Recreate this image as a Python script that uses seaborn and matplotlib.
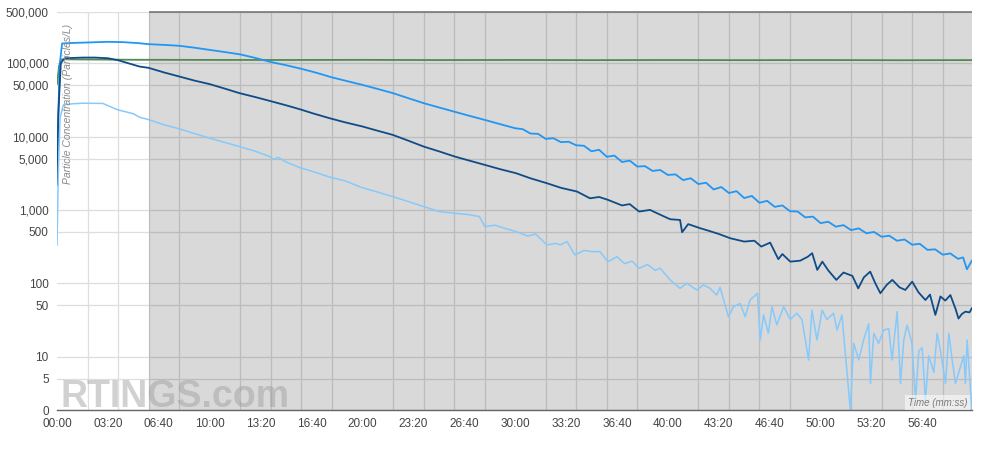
"""Particle concentration decay chart (log-style y axis, shaded test window)."""

import matplotlib
matplotlib.use("Agg")
import matplotlib.pyplot as plt
from matplotlib.ticker import FixedLocator, MultipleLocator, FuncFormatter
import pandas as pd
import seaborn as sns

# ---- data: time in seconds, concentration in particles/L ----
mid_blue_t = [0, 10, 20, 60, 120, 200, 260, 320, 360, 420, 480, 540, 600, 660,
              720, 780, 840, 900, 960, 1020, 1080, 1140, 1200, 1260, 1320, 1380,
              1440, 1500, 1560, 1620, 1680, 1740, 1800, 1830, 1860, 1890, 1920,
              1950, 1980, 2010, 2040, 2070, 2100, 2130, 2160, 2190, 2220, 2250,
              2280, 2310, 2340, 2370, 2400, 2430, 2460, 2490, 2520, 2550, 2580,
              2610, 2640, 2670, 2700, 2730, 2760, 2790, 2820, 2850, 2880, 2910,
              2940, 2970, 3000, 3030, 3060, 3090, 3120, 3150, 3180, 3210, 3240,
              3270, 3300, 3330, 3360, 3390, 3420, 3450, 3480, 3510, 3540, 3560,
              3575, 3595]
mid_blue_v = [3000, 90000, 186000, 189000, 192000, 196000, 194000, 188000, 182000,
              178000, 173000, 163000, 152000, 142000, 132000, 118000, 104000,
              94000, 84000, 74000, 64200, 57000, 50700, 44600, 39100, 33400,
              28600, 25000, 21900, 19200, 16900, 14800, 13000, 12600, 11000,
              10900, 9300, 9500, 8400, 8500, 7600, 7500, 6300, 6600, 5300, 5500,
              4500, 4700, 3900, 3950, 3400, 3500, 3000, 3050, 2550, 2700, 2250,
              2350, 1900, 2050, 1700, 1800, 1450, 1550, 1250, 1330, 1100, 1150,
              960, 950, 790, 810, 660, 690, 590, 620, 530, 560, 480, 500, 430,
              445, 380, 395, 335, 345, 285, 290, 245, 255, 215, 225, 155, 205]

dark_blue_t = [0, 5, 15, 30, 60, 100, 150, 200, 240, 280, 324, 360, 420, 481,
               540, 600, 660, 717, 780, 835, 900, 953, 1010, 1071, 1130, 1201,
               1260, 1319, 1380, 1441, 1500, 1563, 1620, 1681, 1740, 1803, 1860,
               1925, 1980, 2043, 2094, 2130, 2165, 2220, 2250, 2287, 2330, 2370,
               2409, 2448, 2456, 2480, 2527, 2560, 2600, 2645, 2700, 2740, 2767,
               2802, 2834, 2850, 2881, 2920, 2950, 2967, 2987, 3007, 3030, 3062,
               3090, 3125, 3148, 3170, 3195, 3215, 3235, 3260, 3282, 3310, 3333,
               3360, 3385, 3412, 3430, 3451, 3471, 3490, 3510, 3530, 3542, 3555,
               3569, 3585, 3595]
dark_blue_v = [2200, 20000, 100000, 117000, 118000, 119500, 119500, 117000,
               110000, 100000, 90200, 86500, 75000, 65850, 58000, 51900, 45000,
               39100, 34500, 30700, 26700, 23650, 20500, 17800, 15700, 13700,
               12000, 10550, 8800, 7300, 6300, 5340, 4700, 4110, 3600, 3170,
               2700, 2310, 2000, 1780, 1440, 1500, 1370, 1150, 1200, 950, 1000,
               860, 746, 729, 496, 640, 563, 520, 470, 411, 370, 380, 316, 358,
               213, 250, 197, 203, 230, 257, 152, 197, 150, 111, 140, 126, 85,
               120, 144, 100, 73, 95, 111, 88, 81, 105, 75, 59, 70, 37, 66, 58,
               69, 45, 33, 38, 41, 40, 46]

light_blue_t = [0, 5, 12, 25, 60, 100, 180, 238, 300, 324, 363, 420, 481, 540,
                600, 660, 717, 780, 835, 850, 870, 900, 953, 1010, 1071, 1130,
                1201, 1260, 1319, 1380, 1441, 1500, 1563, 1620, 1660, 1681, 1720,
                1760, 1803, 1850, 1880, 1925, 1960, 1977, 2004, 2035, 2070, 2100,
                2133, 2165, 2200, 2230, 2260, 2287, 2320, 2350, 2370, 2409, 2448,
                2474, 2514, 2540, 2566, 2592, 2605, 2638, 2658, 2684, 2704, 2723,
                2752, 2763, 2776, 2795, 2809, 2828, 2855, 2881, 2907, 2927, 2953,
                2966, 2986, 3006, 3025, 3051, 3065, 3084, 3117, 3130, 3150, 3169,
                3189, 3196, 3209, 3228, 3248, 3268, 3281, 3301, 3314, 3327, 3340,
                3359, 3373, 3386, 3399, 3412, 3425, 3445, 3458, 3471, 3491, 3504,
                3517, 3530, 3543, 3563, 3569, 3576, 3589, 3595]
light_blue_v = [330, 3000, 18000, 27000, 28000, 28500, 28300, 23200, 20500,
                18400, 16900, 14500, 12740, 11000, 9510, 8300, 7300, 6300, 5340,
                4900, 5200, 4500, 3780, 3300, 2800, 2500, 2000, 1750, 1520, 1300,
                1110, 950, 900, 860, 810, 590, 620, 560, 506, 440, 470, 333, 350,
                333, 370, 243, 280, 270, 270, 197, 230, 185, 200, 160, 180, 150,
                160, 111, 85, 100, 81, 95, 85, 69, 88, 35, 48, 53, 35, 59, 73,
                16.8, 37, 20.8, 48, 27, 48, 32, 39, 32, 9.0, 43, 16.8, 43, 32, 39,
                23, 37, 0, 15.2, 9.0, 16.8, 28, 4.25, 20.8, 15.2, 23, 24, 9.0, 41,
                4.25, 16.8, 27, 15.2, 1.6, 11.9, 13.2, 1.6, 10.3, 6.1, 20.8, 11.9,
                4.25, 20.8, 9.0, 4.25, 6.1, 10.3, 4.25, 16.8, 3.2, 0]

green_t = [0, 8, 15, 30, 300, 600, 900, 1200, 1500, 1800, 2100, 2400, 2700,
           3000, 3300, 3595]
green_v = [52000, 90000, 112000, 113000, 111500, 111000, 110800, 111200, 110500,
           110900, 110300, 110700, 110200, 110600, 110000, 110400]

y_ticks = [0, 5, 10, 50, 100, 500, 1000, 5000, 10000, 50000, 100000, 500000]
shade_start = 360
x_end = 3595

colors = {
    "mid": "#2196f3",
    "dark": "#0f4c87",
    "light": "#86c9fb",
    "green": "#528a52",
}


def build_frame():
    parts = []
    for name, t, v in [("green", green_t, green_v), ("mid", mid_blue_t, mid_blue_v),
                       ("dark", dark_blue_t, dark_blue_v),
                       ("light", light_blue_t, light_blue_v)]:
        parts.append(pd.DataFrame({"time": t, "value": v, "series": name}))
    return pd.concat(parts, ignore_index=True)


def mmss(x, pos=None):
    x = int(round(x))
    return f"{x // 60:02d}:{x % 60:02d}"


def main():
    sns.set_style("white")
    plt.rcParams["font.family"] = ["Liberation Sans", "DejaVu Sans"]

    df = build_frame()

    fig = plt.figure(figsize=(10, 4.54), dpi=100)
    ax = fig.add_axes([0.057, 0.0969, 0.915, 0.8767])

    ax.set_yscale("symlog", linthresh=5, linscale=0.385)
    ax.set_ylim(0, 500000)
    ax.set_xlim(0, x_end)

    # grid
    ax.set_axisbelow(True)
    ax.yaxis.set_major_locator(FixedLocator(y_ticks))
    ax.yaxis.set_major_formatter(FuncFormatter(lambda v, p: f"{int(v):,}"))
    ax.yaxis.set_minor_locator(FixedLocator([]))
    ax.xaxis.set_major_locator(MultipleLocator(200))
    ax.xaxis.set_major_formatter(FuncFormatter(mmss))
    ax.xaxis.set_minor_locator(MultipleLocator(120))
    ax.grid(True, which="major", axis="y", color="#dedede", lw=0.9)
    ax.grid(True, which="minor", axis="x", color="#dedede", lw=0.9)
    ax.grid(False, which="major", axis="x")

    # shaded test window
    ax.axvspan(shade_start, x_end, color="black", alpha=0.15, lw=0, zorder=1.5)
    ax.hlines(500000, shade_start, x_end, color="#777777", lw=1.2,
              zorder=3, clip_on=False)

    sns.lineplot(data=df, x="time", y="value", hue="series", palette=colors,
                 estimator=None, sort=False, legend=False, lw=1.3, ax=ax,
                 zorder=4)
    for line in ax.lines:
        if line.get_color() == colors["light"]:
            line.set_linewidth(1.1)

    for s in ["top", "right", "left"]:
        ax.spines[s].set_visible(False)
    ax.spines["bottom"].set_color("#666666")
    ax.spines["bottom"].set_linewidth(1.0)
    ax.spines["bottom"].set_zorder(5)

    ax.tick_params(axis="both", which="both", length=0, labelsize=8.5,
                   labelcolor="#444444")
    ax.tick_params(axis="y", pad=6)
    ax.tick_params(axis="x", pad=6)
    ax.set_xlabel("")
    ax.set_ylabel("")

    ax.text(0.0065, 0.97, "Particle Concentration (Particles/L)", rotation=90,
            transform=ax.transAxes, ha="left", va="top", fontsize=7.5,
            style="italic", color="#8a8a8a", zorder=6)
    ax.text(0.995, 0.006, "Time (mm:ss)", transform=ax.transAxes, ha="right",
            va="bottom", fontsize=7, style="italic", color="#7a7a7a", zorder=6,
            bbox=dict(facecolor="white", alpha=0.55, edgecolor="none",
                      boxstyle="square,pad=0.25"))

    ax.text(0.004, 0.008, "RTINGS.com", transform=ax.transAxes, ha="left",
            va="baseline", fontsize=27, fontweight="bold",
            family=["Liberation Sans", "DejaVu Sans"],
            color="#9b9b9b", alpha=0.45, zorder=1.6)

    fig.savefig("out.png", dpi=100)
    plt.close(fig)


if __name__ == "__main__":
    main()
